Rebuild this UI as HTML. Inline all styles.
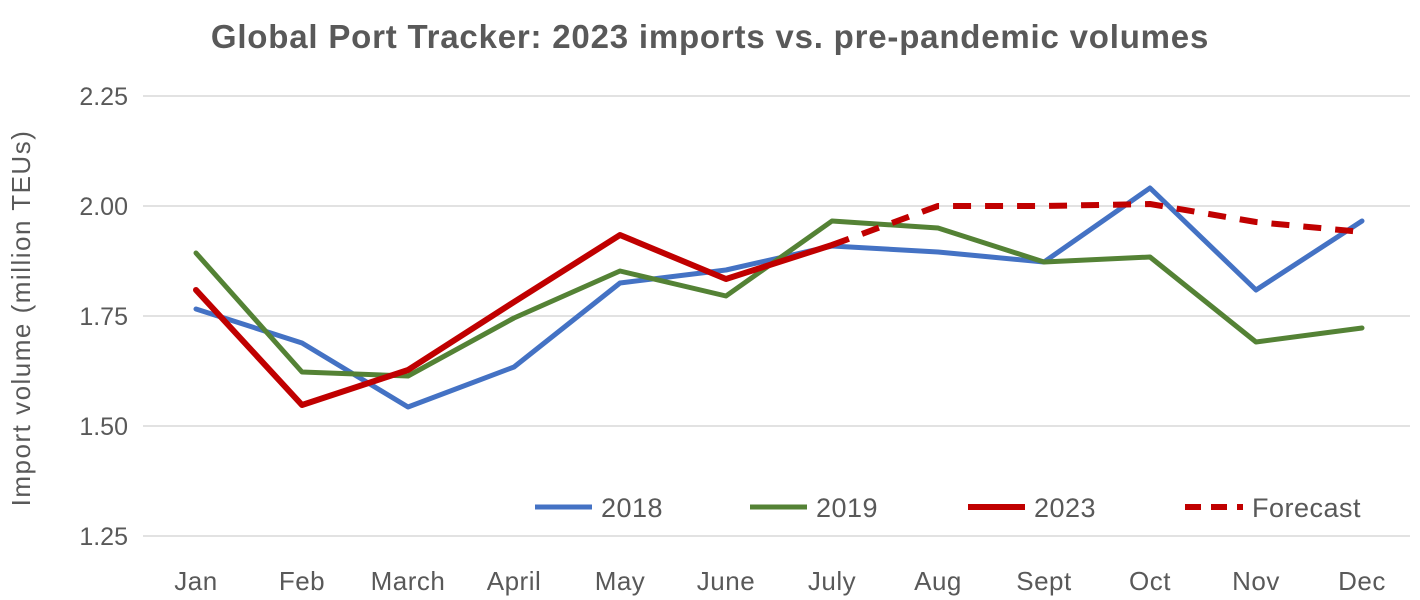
<!DOCTYPE html>
<html><head><meta charset="utf-8"><style>
html,body{margin:0;padding:0;background:#fff;}
svg{display:block;font-family:"Liberation Sans",sans-serif;}
</style></head><body>
<svg width="1420" height="600" viewBox="0 0 1420 600">
<rect width="1420" height="600" fill="#fff"/>
<text x="710" y="48" text-anchor="middle" font-size="33" font-weight="bold" fill="#595959" letter-spacing="0.8">Global Port Tracker: 2023 imports vs. pre-pandemic volumes</text>
<g stroke="#d9d9d9" stroke-width="1.5">
<line x1="143" y1="96" x2="1410" y2="96"/>
<line x1="143" y1="206" x2="1410" y2="206"/>
<line x1="143" y1="316" x2="1410" y2="316"/>
<line x1="143" y1="426" x2="1410" y2="426"/>
<line x1="143" y1="536" x2="1410" y2="536"/>
</g>
<g font-size="25" fill="#595959" text-anchor="end">
<text x="128" y="105">2.25</text>
<text x="128" y="215">2.00</text>
<text x="128" y="325">1.75</text>
<text x="128" y="435">1.50</text>
<text x="128" y="545">1.25</text>
</g>
<text transform="translate(30,318) rotate(-90)" text-anchor="middle" font-size="26" fill="#595959" letter-spacing="1.5">Import volume (million TEUs)</text>
<g font-size="26" fill="#595959" text-anchor="middle" letter-spacing="0.5">
<text x="196" y="590">Jan</text><text x="302" y="590">Feb</text><text x="408" y="590">March</text>
<text x="514" y="590">April</text><text x="620" y="590">May</text><text x="726" y="590">June</text>
<text x="832" y="590">July</text><text x="938" y="590">Aug</text><text x="1044" y="590">Sept</text>
<text x="1150" y="590">Oct</text><text x="1256" y="590">Nov</text><text x="1362" y="590">Dec</text>
</g>
<g fill="none" stroke-linejoin="round" stroke-linecap="round">
<polyline stroke="#4472C4" stroke-width="5" points="196,309 302,343 408,407 514,367 620,283 726,270 832,246 938,252 1044,262 1150,188 1256,290 1362,221"/>
<polyline stroke="#548235" stroke-width="5" points="196,253 302,372 408,376 514,318 620,271 726,296 832,221 938,228 1044,262 1150,257 1256,342 1362,328"/>
<polyline stroke="#C00000" stroke-width="6" stroke-dasharray="18,14" stroke-linecap="butt" points="832,245 938,206 1044,206 1150,204 1256,222 1362,232"/>
<polyline stroke="#C00000" stroke-width="6" points="196,290 302,405 408,370 514,302 620,235 726,279 832,245"/>
</g>
<g fill="none">
<line x1="535" y1="507" x2="592" y2="507" stroke="#4472C4" stroke-width="5"/>
<line x1="750" y1="507" x2="807" y2="507" stroke="#548235" stroke-width="5"/>
<line x1="968" y1="507" x2="1025" y2="507" stroke="#C00000" stroke-width="6"/>
<line x1="1185" y1="507" x2="1243" y2="507" stroke="#C00000" stroke-width="6" stroke-dasharray="16,10"/>
</g>
<g font-size="27" fill="#595959" letter-spacing="0.5">
<text x="601" y="517">2018</text>
<text x="816" y="517">2019</text>
<text x="1034" y="517">2023</text>
<text x="1252" y="517">Forecast</text>
</g>
</svg>
</body></html>
